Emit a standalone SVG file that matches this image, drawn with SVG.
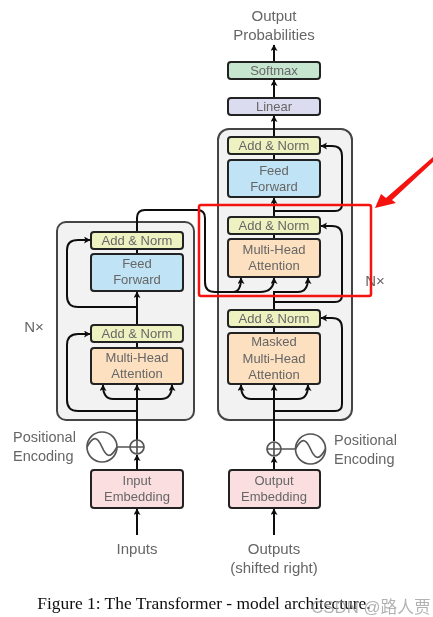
<svg xmlns="http://www.w3.org/2000/svg" width="433" height="617" viewBox="0 0 433 617">
<defs>
<marker id="ah" markerUnits="userSpaceOnUse" markerWidth="8" markerHeight="8" refX="6" refY="3.5" orient="auto"><path d="M0,0 L6.5,3.5 L0,7 L1.5,3.5 Z" fill="#111"/></marker>
<filter id="soft" x="-5%" y="-5%" width="110%" height="110%"><feGaussianBlur stdDeviation="0.45"/></filter>
</defs>
<style>
text{font-family:"Liberation Sans",Arial,sans-serif;font-size:13px;fill:#666;text-anchor:middle}
.l{text-anchor:start;font-size:14.500px}
.o{font-size:15px}
.box{stroke:#222;stroke-width:2}
.an{fill:#eef2c0}.ff{fill:#c0e4f5}.mh{fill:#fde0c0}.em{fill:#fbdfe0}
.cont{fill:#f2f2f2;stroke:#444;stroke-width:2}
.c{fill:none;stroke:#111;stroke-width:2}
.a{marker-end:url(#ah)}
.s{fill:none;stroke:#555;stroke-width:1.700}
</style>
<rect width="433" height="617" fill="#fff"/>
<g filter="url(#soft)">
<g id="encoder-container"><rect class="cont" x="57" y="222" width="137" height="198" rx="9"/></g>
<g id="decoder-container"><rect class="cont" x="218" y="129" width="134" height="291" rx="11"/></g>
<g id="connectors">
<path class="c a" d="M274 62V45"/>
<path class="c a" d="M274 98V80"/>
<path class="c a" d="M274 137V116"/>
<path class="c" d="M274 160V154"/>
<path class="c a" d="M274 217V198"/>
<path class="c" d="M274 239V234"/>
<path class="c" d="M274 333V327"/>
<path class="c a" d="M274 310V292H298Q308 292 308 278"/>
<path class="c a" d="M205 218V282Q205 292 215 292H260Q274 292 274 278"/>
<path class="c a" d="M233 292Q241 292 241 278"/>
<path class="c" d="M137 232V218Q137 210 145 210H197Q205 210 205 218"/>
<path class="c a" d="M274 302H335Q342 302 342 295V236Q342 226 332 226H321"/>
<path class="c a" d="M274 211H335Q342 211 342 204V156Q342 146 332 146H321"/>
<path class="c a" d="M274 411H335Q342 411 342 404V328Q342 318 332 318H321"/>
<path class="c a" d="M274 441V385"/>
<path class="c a" d="M274 399H251Q241 399 241 385"/>
<path class="c a" d="M274 399H298Q308 399 308 385"/>
<path class="c" d="M137 254V249"/>
<path class="c a" d="M137 325V292"/>
<path class="c" d="M137 348V342"/>
<path class="c a" d="M137 440V385"/>
<path class="c a" d="M137 307H78Q67 307 67 296V250Q67 240 78 240H90"/>
<path class="c a" d="M137 411H78Q67 411 67 400V345Q67 334 78 334H90"/>
<path class="c a" d="M137 399H113Q103 399 103 385"/>
<path class="c a" d="M137 399H161Q172 399 172 385"/>
<path class="c a" d="M137 470V455"/>
<path class="c a" d="M274 470V457"/>
<path class="c a" d="M137 535V509"/>
<path class="c a" d="M274 535V509"/>
<path class="s" d="M117 447H130M281 449H296"/>
</g>
<g id="softmax"><rect class="box" x="228" y="62" width="92" height="17" rx="3" fill="#c6e6cf"/><text x="274" y="75">Softmax</text></g>
<g id="linear"><rect class="box" x="228" y="98" width="92" height="17" rx="3" fill="#dcdcf0"/><text x="274" y="111">Linear</text></g>
<g id="dec-addnorm-3"><rect class="box an" x="228" y="137" width="92" height="17" rx="3"/><text x="274" y="150">Add &amp; Norm</text></g>
<g id="dec-ff"><rect class="box ff" x="228" y="160" width="92" height="37" rx="3"/><text x="274" y="174.500">Feed</text><text x="274" y="190.500">Forward</text></g>
<g id="dec-addnorm-2"><rect class="box an" x="228" y="217" width="92" height="17" rx="3"/><text x="274" y="230">Add &amp; Norm</text></g>
<g id="dec-mha"><rect class="box mh" x="228" y="239" width="92" height="38" rx="3"/><text x="274" y="254">Multi-Head</text><text x="274" y="270">Attention</text></g>
<g id="dec-addnorm-1"><rect class="box an" x="228" y="310" width="92" height="17" rx="3"/><text x="274" y="323">Add &amp; Norm</text></g>
<g id="dec-masked"><rect class="box mh" x="228" y="333" width="92" height="51" rx="3"/><text x="274" y="346">Masked</text><text x="274" y="363">Multi-Head</text><text x="274" y="379">Attention</text></g>
<g id="enc-addnorm-2"><rect class="box an" x="91" y="232" width="92" height="17" rx="3"/><text x="137" y="245">Add &amp; Norm</text></g>
<g id="enc-ff"><rect class="box ff" x="91" y="254" width="92" height="37" rx="3"/><text x="137" y="268">Feed</text><text x="137" y="284">Forward</text></g>
<g id="enc-addnorm-1"><rect class="box an" x="91" y="325" width="92" height="17" rx="3"/><text x="137" y="338">Add &amp; Norm</text></g>
<g id="enc-mha"><rect class="box mh" x="91" y="348" width="92" height="36" rx="3"/><text x="137" y="362">Multi-Head</text><text x="137" y="378">Attention</text></g>
<g id="input-embedding"><rect class="box em" x="91" y="470" width="92" height="38" rx="3"/><text x="137" y="485">Input</text><text x="137" y="501">Embedding</text></g>
<g id="output-embedding"><rect class="box em" x="229" y="470" width="91" height="38" rx="3"/><text x="274" y="485">Output</text><text x="274" y="501">Embedding</text></g>
<g id="enc-plus"><circle class="s" cx="137" cy="447" r="7"/><path class="s" d="M130 447H144M137 440V454"/></g>
<g id="dec-plus"><circle class="s" cx="274" cy="449" r="7"/><path class="s" d="M267 449H281M274 442V456"/></g>
<g id="enc-pos"><circle class="s" cx="102" cy="447" r="15"/><path class="s" d="M87 447C94 434 98 438 102 447S110 460 117 447"/></g>
<g id="dec-pos"><circle class="s" cx="310.500" cy="449" r="15"/><path class="s" d="M295.500 449C302.500 436 306.500 440 310.500 449S318.500 462 325.500 449"/></g>
<g id="labels">
<text class="o" x="274" y="21">Output</text><text class="o" x="274" y="40">Probabilities</text>
<text class="o" x="375" y="286">N×</text><text class="o" x="34" y="332">N×</text>
<text class="l" x="13" y="442">Positional</text><text class="l" x="13" y="461">Encoding</text>
<text class="l" x="334" y="445">Positional</text><text class="l" x="334" y="464">Encoding</text>
<text class="o" x="137" y="554">Inputs</text>
<text class="o" x="274" y="554">Outputs</text><text class="o" x="274" y="573">(shifted right)</text>
<text x="204" y="609" style="font-family:'Liberation Serif',serif;font-size:17.400px;fill:#111">Figure 1: The Transformer - model architecture.</text>
</g>
</g>
<g id="annotation">
<rect x="199" y="205" width="172" height="91" rx="2" fill="none" stroke="#f5130f" stroke-width="2.500"/>
<path d="M375 208L381 194L386 198L433 157V162L392 200L396 203Z" fill="#f5130f"/>
<text x="371" y="613" style="font-family:'Liberation Sans','Noto Sans CJK SC',sans-serif;font-size:16.800px;fill:#999;opacity:.75">CSDN @路人贾</text>
</g>
</svg>
